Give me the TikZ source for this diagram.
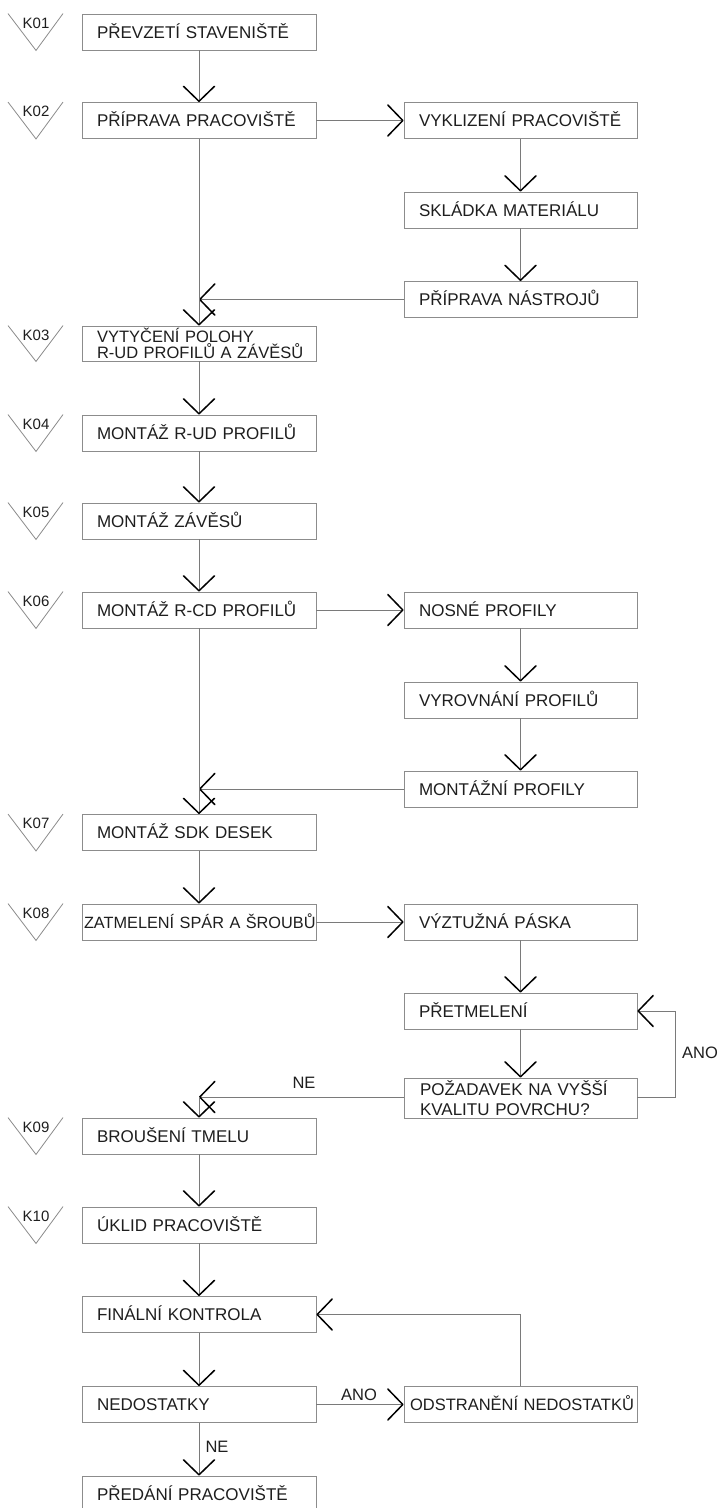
\documentclass[tikz,border=0pt]{standalone}
\usepackage{fontspec}
\setmainfont{Liberation Sans}
\usetikzlibrary{arrows.meta,calc}
\definecolor{boxgray}{HTML}{8C8C8C}
\definecolor{linegray}{HTML}{7A7A7A}
\definecolor{txt}{HTML}{1E1E1E}
\tikzset{
  basebox/.style={draw=boxgray,line width=0.9pt,fill=white,minimum height=36pt,
    inner ysep=0pt,align=left,text=txt,font=\fontsize{17}{20}\selectfont},
  lbox/.style={basebox,minimum width=234pt,inner xsep=15pt,text width=204pt,
    text height=12.2pt,text depth=0pt},
  rbox/.style={basebox,minimum width=233pt,inner xsep=15pt,text width=203pt,
    text height=12.2pt,text depth=0pt},
  flow/.style={draw=linegray,line width=0.9pt,
    -{Straight Barb[length=15pt,width=31pt,line width=1.5pt,color=black,round]}},
  tri/.style={draw=boxgray,line width=0.8pt},
  klabel/.style={text=txt,font=\fontsize{15}{15}\selectfont,inner sep=0pt},
  lbl/.style={text=txt,font=\fontsize{16.5}{18}\selectfont,inner sep=0pt}
}
\newcommand{\nb}[1]{\mbox{#1}}
\newcommand{\ktri}[3]{%
  \draw[tri] (#1.north -| 8,0) -- (#1.south -| 36,0) -- (#1.north -| 63,0);
  \node[klabel,anchor=center] (#2) at ($(#1.north -| 36,0)+(0,9.5)$) {#3};}
\begin{document}
\begin{tikzpicture}[x=1pt,y=-1pt]
\useasboundingbox (0,0) rectangle (719,1508);
\fill[white] (0,0) rectangle (719,1508);

% left column
\node[lbox] (k01) at (199,32) {\nb{PŘEVZETÍ STAVENIŠTĚ}};
\node[lbox] (k02) at (199,120.5) {\nb{PŘÍPRAVA PRACOVIŠTĚ}};
\node[basebox,minimum width=234pt,minimum height=35pt,inner xsep=15pt,text width=204pt,
  font=\fontsize{16.5}{16}\selectfont] (k03) at (199,343.5) {\nb{VYTYČENÍ POLOHY}\\\nb{R-UD PROFILŮ A ZÁVĚSŮ}};
\node[lbox] (k04) at (199,433) {\nb{MONTÁŽ R-UD PROFILŮ}};
\node[lbox] (k05) at (199,521) {\nb{MONTÁŽ ZÁVĚSŮ}};
\node[lbox] (k06) at (199,610) {\nb{MONTÁŽ R-CD PROFILŮ}};
\node[lbox] (k07) at (199,832.5) {\nb{MONTÁŽ SDK DESEK}};
\node[lbox,inner xsep=2pt,text width=230pt,font=\fontsize{16.3}{20}\selectfont] (k08) at (199,922) {\nb{ZATMELENÍ SPÁR A ŠROUBŮ}};
\node[lbox] (k09) at (199,1136) {\nb{BROUŠENÍ TMELU}};
\node[lbox] (k10) at (199,1225) {\nb{ÚKLID PRACOVIŠTĚ}};
\node[lbox] (final) at (199,1314.5) {\nb{FINÁLNÍ KONTROLA}};
\node[lbox] (nedos) at (199,1404.5) {\nb{NEDOSTATKY}};
\node[lbox] (predani) at (199,1494) {\nb{PŘEDÁNÍ PRACOVIŠTĚ}};

% right column
\node[rbox] (vykl) at (520.5,120.5) {\nb{VYKLIZENÍ PRACOVIŠTĚ}};
\node[rbox] (sklad) at (520.5,210) {\nb{SKLÁDKA MATERIÁLU}};
\node[rbox] (nastr) at (520.5,299.5) {\nb{PŘÍPRAVA NÁSTROJŮ}};
\node[rbox] (nosne) at (520.5,610) {\nb{NOSNÉ PROFILY}};
\node[rbox] (vyrov) at (520.5,700) {\nb{VYROVNÁNÍ PROFILŮ}};
\node[rbox] (montaz) at (520.5,789) {\nb{MONTÁŽNÍ PROFILY}};
\node[rbox] (vyzt) at (520.5,922) {\nb{VÝZTUŽNÁ PÁSKA}};
\node[rbox] (pretm) at (520.5,1011) {\nb{PŘETMELENÍ}};
\node[basebox,minimum width=233pt,minimum height=40pt,inner xsep=16pt,text width=201pt] (pozad) at (520.5,1098) {\nb{POŽADAVEK NA VYŠŠÍ}\\\nb{KVALITU POVRCHU?}};
\node[rbox,inner xsep=6pt,text width=221pt,font=\fontsize{16.5}{20}\selectfont] (odstr) at (520.5,1404.5) {\nb{ODSTRANĚNÍ NEDOSTATKŮ}};

% K markers
\ktri{k01}{t01}{K01}
\ktri{k02}{t02}{K02}
\ktri{k03}{t03}{K03}
\ktri{k04}{t04}{K04}
\ktri{k05}{t05}{K05}
\ktri{k06}{t06}{K06}
\ktri{k07}{t07}{K07}
\ktri{k08}{t08}{K08}
\ktri{k09}{t09}{K09}
\ktri{k10}{t10}{K10}

% connectors
\draw[flow] (k01.south) -- (k02.north);
\draw[flow] (k02.east) -- (vykl.west);
\draw[flow] (vykl.south) -- (sklad.north);
\draw[flow] (sklad.south) -- (nastr.north);
\draw[flow] (nastr.west) -- (nastr.west -| k02.south);
\draw[flow] (k02.south) -- (k03.north);
\draw[flow] (k03.south) -- (k04.north);
\draw[flow] (k04.south) -- (k05.north);
\draw[flow] (k05.south) -- (k06.north);
\draw[flow] (k06.east) -- (nosne.west);
\draw[flow] (nosne.south) -- (vyrov.north);
\draw[flow] (vyrov.south) -- (montaz.north);
\draw[flow] (montaz.west) -- (montaz.west -| k06.south);
\draw[flow] (k06.south) -- (k07.north);
\draw[flow] (k07.south) -- (k08.north);
\draw[flow] (k08.east) -- (vyzt.west);
\draw[flow] (vyzt.south) -- (pretm.north);
\draw[flow] (pretm.south) -- (pozad.north);
\coordinate (nejoin) at ($(pozad.west -| k09.north)+(0,-1)$);
\draw[flow] ($(pozad.west)+(0,-1)$) -- (nejoin);
\draw[flow] (nejoin) -- (k09.north);
\coordinate (anoturn) at ($(pozad.east)+(38,-1)$);
\draw[flow] ($(pozad.east)+(0,-1)$) -- (anoturn) |- (pretm.east);
\draw[flow] (k09.south) -- (k10.north);
\draw[flow] (k10.south) -- (final.north);
\draw[flow] (final.south) -- (nedos.north);
\draw[flow] (nedos.east) -- (odstr.west);
\draw[flow] (odstr.north) |- (final.east);
\draw[flow] (nedos.south) -- (predani.north);

% labels
\node[lbl] (ne1) at (304,1083) {NE};
\node[lbl] (ano1) at (700,1053) {ANO};
\node[lbl] (ano2) at (359,1395) {ANO};
\node[lbl] (ne2) at (217,1447) {NE};
\end{tikzpicture}
\end{document}
